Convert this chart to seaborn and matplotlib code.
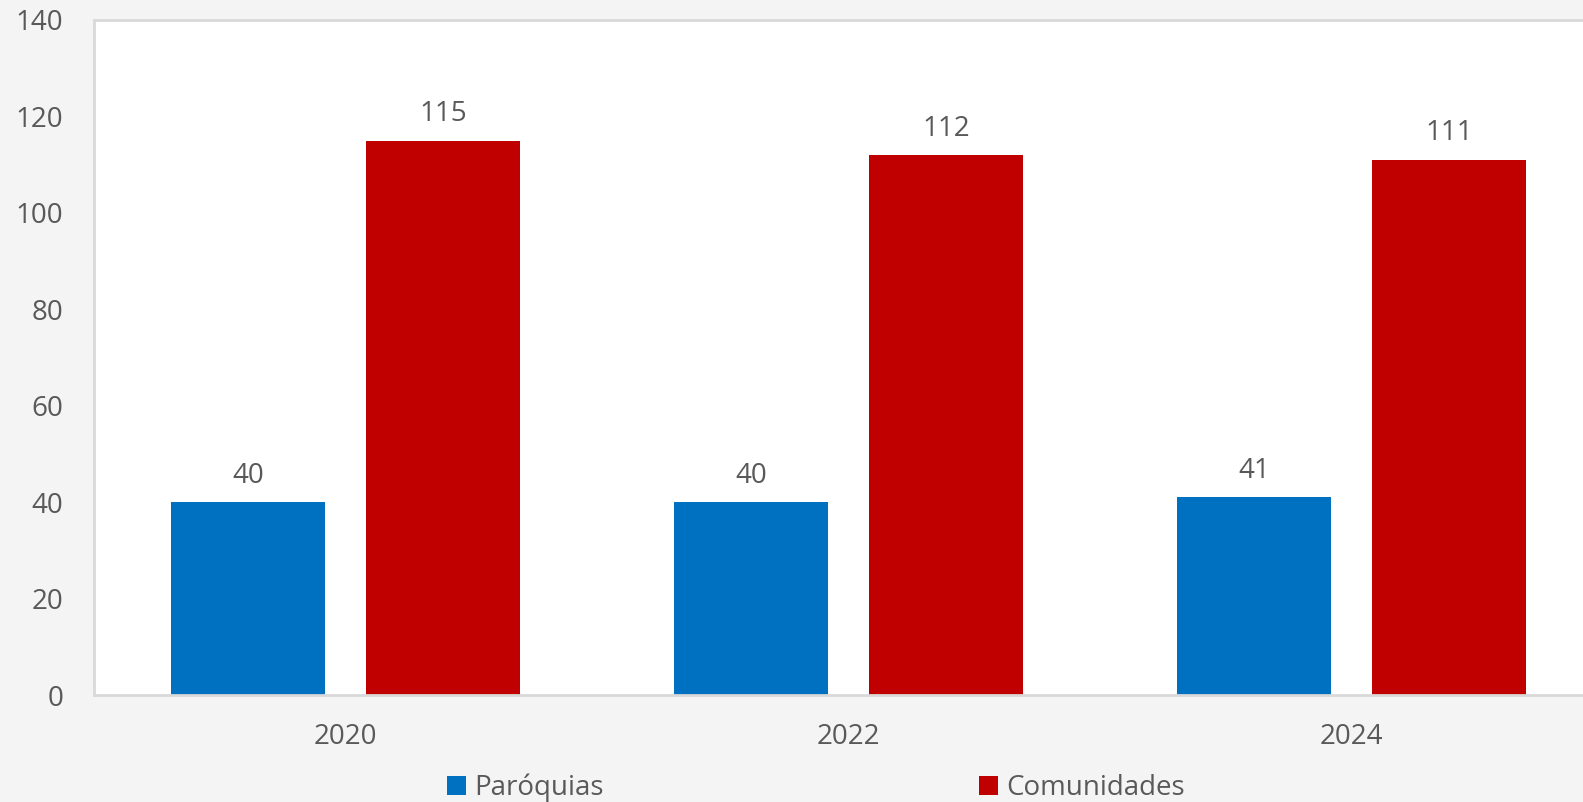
import pandas as pd
import matplotlib.pyplot as plt
import seaborn as sns

# Data
years = ['2020', '2022', '2024']
paroquias = [40, 40, 41]
comunidades = [115, 112, 111]
series_names = ['Paróquias', 'Comunidades']
colors = ['#0070C0', '#C00000']

df = pd.DataFrame({
    'Ano': years * 2,
    'Valor': paroquias + comunidades,
    'Serie': [series_names[0]] * len(years) + [series_names[1]] * len(years),
})

sns.set_style("white")
plt.rcParams['font.family'] = ['Open Sans', 'DejaVu Sans']
text_color = '#595959'

fig = plt.figure(figsize=(15.83, 8.02), dpi=100, facecolor='#f4f4f4')
ax = fig.add_axes([94 / 1583, 107 / 802, 1509 / 1583, 675 / 802])
ax.set_facecolor('white')

sns.barplot(data=df, x='Ano', y='Valor', hue='Serie', palette=colors,
            width=0.776, gap=0.21, ax=ax, saturation=1, linewidth=0)

# Value labels
for cont in ax.containers:
    ax.bar_label(cont, padding=9, fontsize=20, color=text_color)

ax.set_ylim(0, 140)
ax.set_xlim(-0.5, 2.5)
ax.set_yticks(range(0, 141, 20))
ax.set_xlabel('')
ax.set_ylabel('')
ax.tick_params(axis='both', length=0, labelsize=20, labelcolor=text_color)
ax.tick_params(axis='y', pad=22)
ax.tick_params(axis='x', pad=20)

for side in ['left', 'top', 'bottom']:
    ax.spines[side].set_color('#d9d9d9')
    ax.spines[side].set_linewidth(2)
ax.spines['right'].set_visible(False)

# Legend at bottom
handles, labels = ax.get_legend_handles_labels()
ax.legend_.remove()
leg = fig.legend(handles, labels, loc='center', bbox_to_anchor=(816 / 1583, 1 - 788 / 802),
                 ncol=2, frameon=False, fontsize=20, handlelength=0.7, handleheight=0.7,
                 handletextpad=0.3, columnspacing=13.5, labelcolor=text_color)

plt.savefig('out.png', dpi=100, facecolor=fig.get_facecolor())
